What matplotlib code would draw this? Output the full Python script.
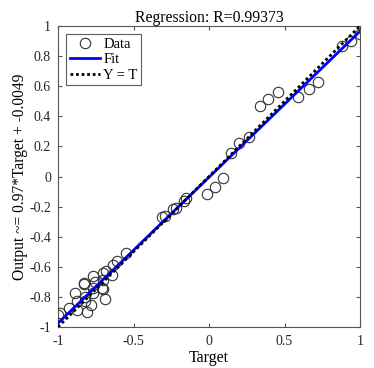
import matplotlib
matplotlib.use("Agg")
import matplotlib.pyplot as plt
import numpy as np

plt.rcParams['font.family'] = ['Liberation Serif', 'DejaVu Serif']

target = [1.00, 0.94, 0.88, 0.72, 0.66, 0.59, 0.46, 0.39, 0.34,
          0.267, 0.20, 0.144, 0.09, 0.04, -0.011, -0.154, -0.166, -0.219, -0.24, -0.29, -0.31,
          -0.55, -0.61, -0.634, -0.68, -0.70, -0.644, -0.77, -0.755, -0.70, -0.826,
          -0.71, -0.767, -0.887, -0.69, -0.767, -0.82, -0.876, -0.78, -0.82, -0.81,
          -0.876, -0.93, -0.99, -1.00, -0.70, -0.83]
output = [0.945, 0.90, 0.867, 0.626, 0.58, 0.526, 0.563, 0.515, 0.468,
          0.264, 0.22, 0.158, -0.008, -0.068, -0.118, -0.145, -0.16, -0.207, -0.216, -0.262, -0.27,
          -0.506, -0.56, -0.588, -0.626, -0.639, -0.654, -0.66, -0.70, -0.688, -0.714,
          -0.743, -0.743, -0.772, -0.816, -0.776, -0.80, -0.83, -0.854, -0.83, -0.898,
          -0.887, -0.876, -0.91, -0.92, -0.75, -0.71]
slope = 0.97
intercept = -0.0049
r_value = 0.99373
xticks = [-1, -0.5, 0, 0.5, 1]
xticklabels = ['-1', '-0.5', '0', '0.5', '1']
yticks = [-1, -0.8, -0.6, -0.4, -0.2, 0, 0.2, 0.4, 0.6, 0.8, 1]
yticklabels = ['-1', '-0.8', '-0.6', '-0.4', '-0.2', '0', '0.2', '0.4', '0.6', '0.8', '1']

fig = plt.figure(figsize=(3.74, 3.68), dpi=100)
ax = fig.add_axes([58/374, 1-327/368, (360-58)/374, (327-26)/368])

line_x = np.array([-1, 1])
ax.plot(target, output, 'o', mfc='none', mec='#333333', ms=7.5, mew=0.8, label='Data', zorder=3)
ax.plot(line_x, slope*line_x + intercept, color='#0000ff', lw=2, label='Fit', zorder=4)
ax.plot(line_x, line_x, color='black', lw=2, linestyle=(0, (1, 1)), label='Y = T', zorder=5)

ax.set_xlim(-1, 1)
ax.set_ylim(-1, 1)
ax.set_xticks(xticks)
ax.set_xticklabels(xticklabels)
ax.set_yticks(yticks)
ax.set_yticklabels(yticklabels)
ax.tick_params(direction='in', top=True, right=True, labelsize=10, length=3,
               color='#555555', labelcolor='#262626')
ax.tick_params(axis='y', pad=5)
ax.tick_params(axis='x', pad=6)
for s in ax.spines.values():
    s.set_color('#555555')
    s.set_linewidth(0.8)

ax.set_title('Regression: R=%.5f' % r_value, fontsize=11.3, pad=3)
ax.set_xlabel('Target', fontsize=11.5, labelpad=1)
ax.set_ylabel('Output ~= %.2g*Target + %.2g' % (slope, intercept), fontsize=11.2, labelpad=1)

leg = ax.legend(loc='upper left', fontsize=10.5, frameon=True, fancybox=False,
                edgecolor='#333333', borderpad=0.25, handlelength=2.1, labelspacing=0.15,
                handletextpad=0.2, borderaxespad=0.55)
leg.get_frame().set_linewidth(0.8)

fig.savefig('out.png', dpi=100)
